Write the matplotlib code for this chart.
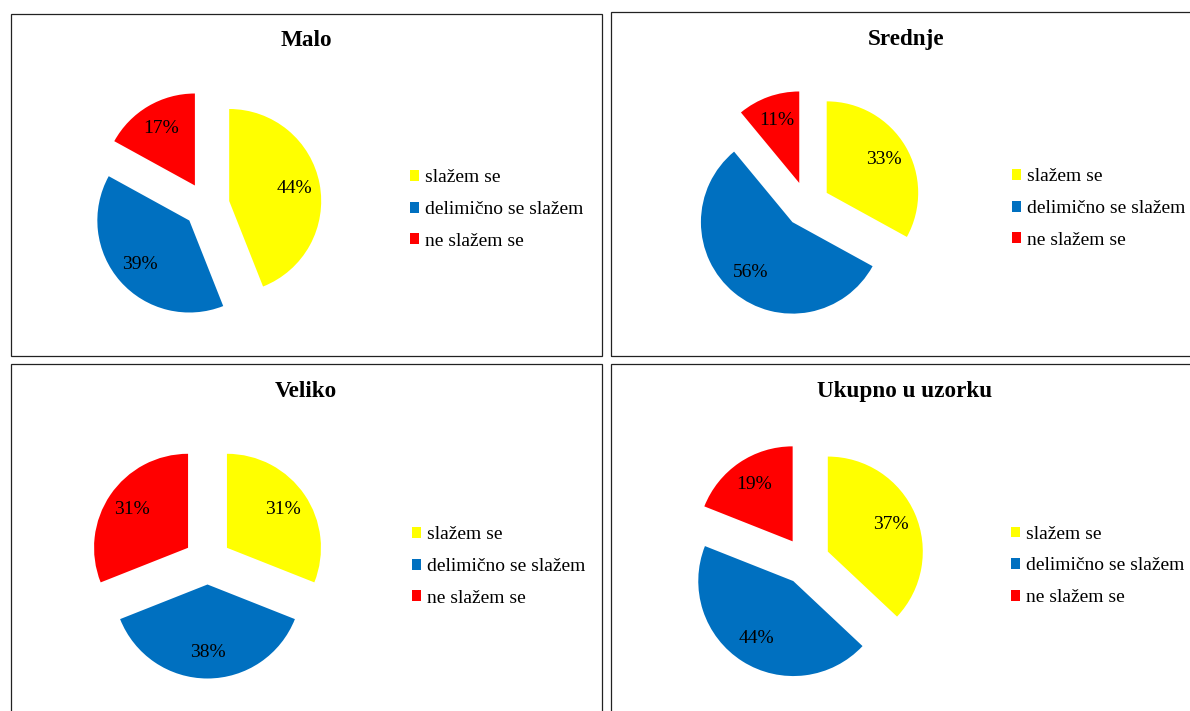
import matplotlib
matplotlib.use('Agg')
import matplotlib.pyplot as plt
from matplotlib.patches import Rectangle

plt.rcParams['font.family'] = ['Liberation Serif', 'DejaVu Serif']

# data
categories = ['slažem se', 'delimično se slažem', 'ne slažem se']
colors = ['#FFFF00', '#0070C0', '#FF0000']

titles = ['Malo', 'Srednje', 'Veliko', 'Ukupno u uzorku']
malo = [44, 39, 17]
srednje = [33, 56, 11]
veliko = [31, 38, 31]
ukupno = [37, 44, 19]
series = [malo, srednje, veliko, ukupno]

# layout in pixels (figure is 1190 x 711)
W, H = 1190, 711
boxes = [(11.3, 13.7, 601.7, 356), (610.7, 11.7, 1200, 356),
         (11.3, 364.3, 601.7, 720), (610.7, 364.3, 1200, 720)]
title_pos = [(306, 46.5), (906, 45), (306, 397.5), (905, 397.5)]
pie_center = [(206.6, 205.3), (807, 204.5), (207.5, 561), (806, 561)]
pie_radius = [92, 91.5, 94, 95]
legend_pos = [(410, 209.5), (1012, 208.5), (412, 566.5), (1011, 566)]

fig = plt.figure(figsize=(W / 100, H / 100), dpi=100)
fig.patch.set_facecolor('white')

for i in range(4):
    x0, y0, x1, y1 = boxes[i]
    fig.add_artist(Rectangle((x0 / W, 1 - y1 / H), (x1 - x0) / W, (y1 - y0) / H,
                             transform=fig.transFigure, fill=False,
                             edgecolor='#222222', linewidth=0.9))

    tx, ty = title_pos[i]
    fig.text(tx / W, 1 - ty / H, titles[i], ha='center', va='baseline',
             fontsize=16.7, fontweight='bold', color='black')

    cx, cy = pie_center[i]
    r = pie_radius[i]
    L = 1.6
    ax = fig.add_axes([(cx - L * r) / W, 1 - (cy + L * r) / H, 2 * L * r / W, 2 * L * r / H])
    wedges, _, autotexts = ax.pie(series[i], colors=colors, explode=[0.25] * 3,
                                  startangle=90, counterclock=False,
                                  autopct='%.0f%%', pctdistance=0.72,
                                  textprops=dict(fontsize=14, color='black'),
                                  wedgeprops=dict(linewidth=0))
    ax.set_xlim(-L, L)
    ax.set_ylim(-L, L)
    ax.set_aspect('equal')
    ax.axis('off')

    lx, ly = legend_pos[i]
    ax.legend(wedges, categories, loc='center left',
              bbox_to_anchor=(lx / W, 1 - ly / H), bbox_transform=fig.transFigure,
              frameon=False, fontsize=14, borderpad=0, borderaxespad=0,
              handlelength=0.48, handleheight=0.48, handletextpad=0.3,
              labelspacing=0.75)

fig.savefig('out.png', dpi=100, facecolor='white')
plt.close(fig)
